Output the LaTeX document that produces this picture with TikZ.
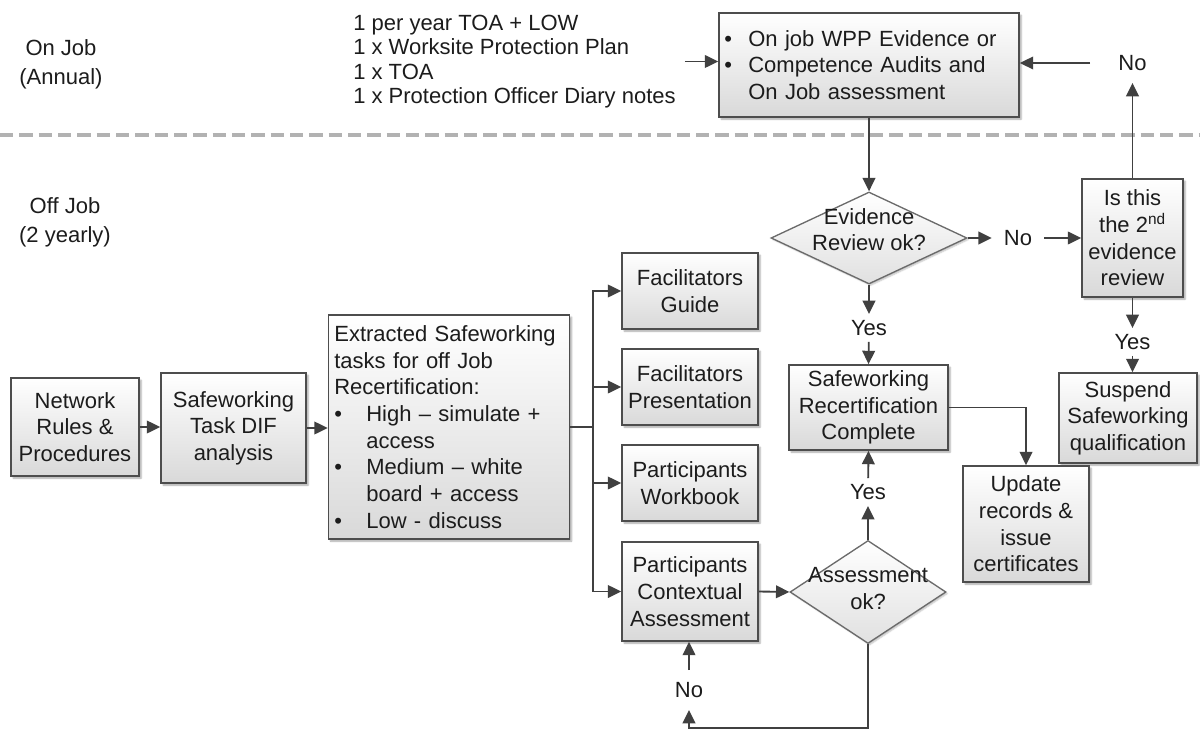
\documentclass[tikz,border=0pt]{standalone}
\usepackage{fontspec}
\setmainfont{Liberation Sans}
\usepackage{tikz}
\usetikzlibrary{arrows.meta}
\usetikzlibrary{shadows.blur}
\usetikzlibrary{shapes.geometric}
\definecolor{boxline}{RGB}{77,77,77}
\definecolor{linegray}{RGB}{64,64,64}
\definecolor{sepgray}{RGB}{178,178,178}
\definecolor{txtgray}{RGB}{28,28,28}
\newcommand{\dtext}[1]{\smash{\makebox[0pt]{\begin{tabular}{@{}c@{}}#1\end{tabular}}}}
\newcommand{\bul}[1]{\makebox[#1][l]{\textbullet}}

\begin{document}
\begin{tikzpicture}[x=0.75pt,y=0.75pt,yscale=-1,xscale=1,
  every node/.style={text=txtgray,font=\fontsize{16.5}{20}\selectfont},
  procbox/.style={draw=boxline,line width=1.3pt,top color=white,bottom color=black!15,
    blur shadow={shadow xshift=1.6pt,shadow yshift=-1.6pt,shadow blur radius=1.2pt,shadow opacity=35},
    align=center,inner sep=1pt},
  decbox/.style={diamond,draw=black!58,line width=1pt,top color=white,bottom color=black!12,
    blur shadow={shadow xshift=1.2pt,shadow yshift=-1.2pt,shadow blur radius=1pt,shadow opacity=25},
    inner sep=0pt},
  arr/.style={draw=linegray,line width=1.4pt,-{Triangle[length=10pt,width=9.5pt]}},
  ln/.style={draw=linegray,line width=1.4pt},
  nolbl/.style={inner sep=9pt},
  yeslbl/.style={inner sep=4.5pt}]
\useasboundingbox (0,0) rectangle (1200,731);

\draw [sepgray,line width=2.3pt,dash pattern=on 10pt off 4.5pt] (0,135) -- (1200,135) ;

\node [align=center,font=\fontsize{16.5}{21.5}\selectfont] (onjob) at (61,64) {On Job\\(Annual)};
\node [align=center,font=\fontsize{16.5}{21.5}\selectfont] (offjob) at (65,222) {Off Job\\(2 yearly)};
\node [anchor=west,align=left,inner sep=0.75pt,font=\fontsize{16.5}{18.2}\selectfont] (toplist) at (352,61.5)
  {1 per year TOA + LOW\\1 x Worksite Protection Plan\\1 x TOA\\1 x Protection Officer Diary notes};

\node [procbox,minimum width=225pt,minimum height=78pt,text width=217pt,align=left] (topbox) at (869,65)
  {\bul{18pt}On job WPP Evidence or\\\bul{18pt}Competence Audits and\\\hspace*{18pt}On Job assessment};
\node [procbox,minimum width=96pt,minimum height=73.5pt] (net) at (75,427) {Network\\Rules \&\\Procedures};
\node [procbox,minimum width=108.75pt,minimum height=82.5pt] (task) at (233.5,428) {Safeworking\\Task DIF\\analysis};
\node [procbox,minimum width=180.75pt,minimum height=168pt,text width=172pt,align=left] (extr) at (449,427)
  {Extracted Safeworking\\tasks for off Job\\Recertification:\\\bul{24pt}High -- simulate +\\\hspace*{24pt}access\\\bul{24pt}Medium -- white\\\hspace*{24pt}board + access\\\bul{24pt}Low - discuss};
\node [procbox,minimum width=102pt,minimum height=57pt] (fguide) at (690,291) {Facilitators\\Guide};
\node [procbox,minimum width=102pt,minimum height=57pt] (fpres) at (690,387) {Facilitators\\Presentation};
\node [procbox,minimum width=102pt,minimum height=57pt] (pwork) at (690,483) {Participants\\Workbook};
\node [procbox,minimum width=102pt,minimum height=74.25pt] (pctx) at (690,591.5) {Participants\\Contextual\\Assessment};
\node [decbox,minimum width=147pt,minimum height=69pt] (evid) at (869,238) {\dtext{Evidence\\Review ok?}};
\node [decbox,minimum width=117pt,minimum height=77.25pt] (assess) at (868,592) {\raisebox{-7pt}{\dtext{Assessment\\ok?}}};
\node [procbox,minimum width=119.25pt,minimum height=63.75pt] (recert) at (868.5,407.5) {Safeworking\\Recertification\\Complete};
\node [procbox,minimum width=75.75pt,minimum height=88.5pt] (isthis) at (1132.5,238) {Is this\\the 2\textsuperscript{nd}\\evidence\\review};
\node [procbox,minimum width=103.5pt,minimum height=67.5pt] (suspend) at (1128,418) {Suspend\\Safeworking\\qualification};
\node [procbox,minimum width=94.5pt,minimum height=87pt] (update) at (1026,524) {Update\\records \&\\issue\\certificates};

\node [nolbl] (noA) at (1018,238) {No};
\node [nolbl] (noB) at (1132.5,63) {No};
\node [nolbl] (noC) at (689,690) {No};
\node [yeslbl] (yesA) at (869,328) {Yes};
\node [yeslbl] (yesB) at (868,492) {Yes};
\node [yeslbl] (yesC) at (1132.5,342) {Yes};

\coordinate (br) at (593,427);
\coordinate (lp) at (689,728);

\draw [arr] (net.east) -- (net.east -| task.west) ;
\draw [arr] (task.east) -- (task.east -| extr.west) ;
\draw [ln] (extr.east) -- (br) ;
\draw [arr] (br) |- (fguide.west) ;
\draw [arr] (br) |- (fpres.west) ;
\draw [arr] (br) |- (pwork.west) ;
\draw [arr] (br) |- (pctx.west) ;
\draw [arr] (pctx.east) -- (assess.west) ;
\draw [arr] ([xshift=6pt]toplist.east) -- (toplist.east -| topbox.west) ;
\draw [arr] (topbox.south) -- (evid.north) ;
\draw [arr] (evid.east) -- (noA) ;
\draw [arr] (noA) -- (isthis.west) ;
\draw [arr] (isthis.north) -- (noB) ;
\draw [arr] ([xshift=-12pt]noB.west) -- (noB.west -| topbox.east) ;
\draw [arr] (evid.south) -- (yesA) ;
\draw [arr] (yesA) -- (recert.north) ;
\draw [arr] (assess.north) -- (yesB) ;
\draw [arr] (yesB) -- (recert.south) ;
\draw [arr] (isthis.south) -- (yesC) ;
\draw [arr] (yesC) -- (yesC |- suspend.north) ;
\draw [arr] (recert.east) -| (update.north) ;
\draw [arr] (assess.south) |- (lp) -- (noC) ;
\draw [arr] (noC) -- (noC |- pctx.south) ;
\end{tikzpicture}
\end{document}
